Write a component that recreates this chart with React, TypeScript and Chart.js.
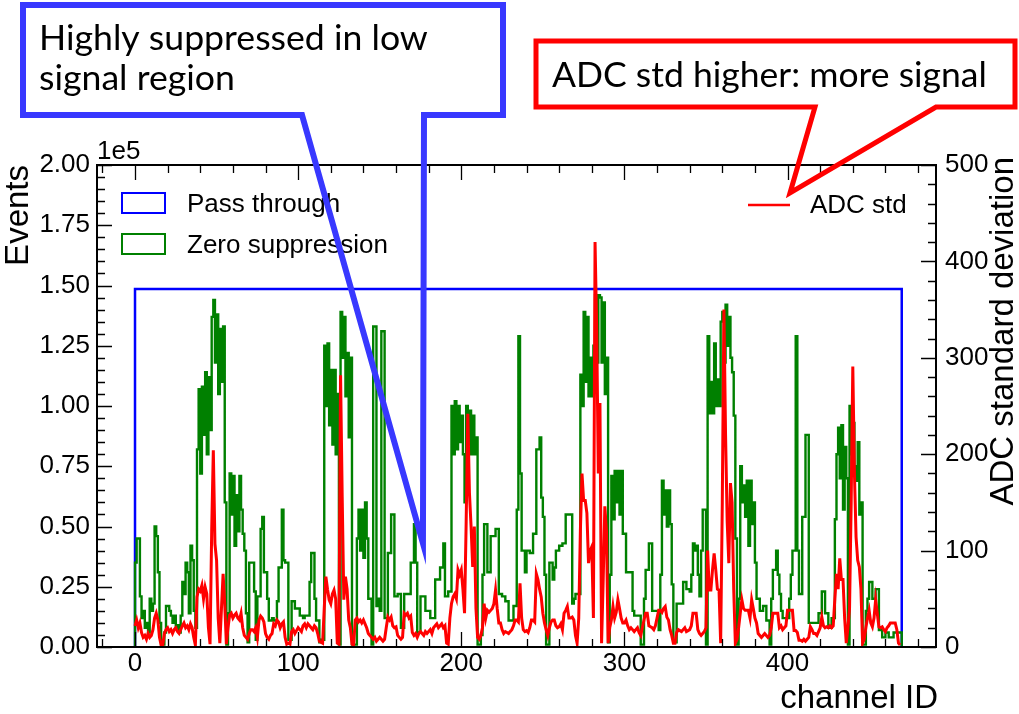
import React, { useEffect, useRef } from "react";
import { Chart, registerables } from "chart.js";

Chart.register(...registerables);

// ---------------- data ----------------
const channelCount = 470;
const passThroughEdges = [0, 470];
const passThroughCounts = [148500];

// Zero-suppression events per channel, in thousands of events
const zeroSuppressionK = [
  35, 45, 45, 21, 12, 15, 8, 10, 6, 20,
  15, 18, 50, 46, 31, 10, 1, 1, 6, 17,
  17, 15, 13, 10, 13, 8, 9, 6, 13, 27,
  22, 35, 31, 14, 42, 36, 15, 8, 82, 107,
  72, 108, 88, 114, 80, 112, 90, 137, 144, 118,
  138, 105, 132, 110, 133, 60, 1, 14, 72, 55,
  71, 42, 63, 48, 71, 57, 47, 40, 14, 2,
  35, 35, 35, 23, 3, 21, 21, 49, 54, 31,
  31, 20, 11, 11, 12, 11, 11, 19, 33, 33,
  57, 36, 35, 35, 3, 3, 19, 19, 16, 16,
  16, 13, 13, 12, 13, 13, 13, 27, 39, 39,
  20, 11, 11, 2, 3, 3, 125, 100, 126, 92,
  115, 84, 115, 80, 105, 1, 139, 120, 137, 104,
  122, 87, 120, 1, 1, 1, 45, 57, 40, 57,
  37, 60, 45, 20, 20, 1, 133, 133, 17, 20,
  15, 131, 131, 12, 12, 39, 39, 55, 55, 21,
  21, 22, 22, 8, 8, 22, 22, 22, 22, 35,
  35, 51, 35, 6, 6, 21, 21, 21, 15, 15,
  15, 12, 12, 12, 28, 28, 28, 33, 33, 43,
  21, 21, 23, 23, 100, 80, 102, 82, 100, 85,
  96, 80, 60, 100, 84, 98, 80, 96, 80, 87,
  1, 1, 5, 30, 51, 51, 31, 31, 46, 46,
  46, 49, 49, 22, 22, 21, 21, 19, 19, 11,
  11, 11, 17, 17, 57, 129, 72, 40, 40, 31,
  40, 40, 39, 39, 47, 47, 82, 82, 87, 62,
  54, 30, 1, 1, 35, 35, 28, 33, 40, 40,
  42, 42, 43, 43, 55, 55, 55, 55, 18, 20,
  22, 22, 22, 113, 100, 139, 110, 137, 104, 120,
  104, 125, 146, 118, 146, 145, 118, 143, 105, 120,
  2, 30, 71, 53, 73, 60, 73, 55, 73, 47,
  47, 31, 31, 31, 31, 15, 13, 13, 13, 13,
  1, 1, 20, 32, 32, 43, 43, 15, 15, 15,
  15, 7, 30, 69, 55, 65, 50, 65, 51, 26,
  2, 2, 18, 18, 18, 18, 27, 27, 24, 24,
  23, 30, 43, 40, 42, 30, 21, 40, 57, 57,
  1, 129, 97, 110, 97, 126, 100, 111, 100, 135,
  139, 118, 142, 125, 137, 120, 114, 96, 45, 1,
  20, 75, 60, 67, 54, 69, 42, 69, 51, 60,
  35, 20, 20, 15, 15, 17, 17, 11, 11, 1,
  20, 32, 32, 40, 30, 22, 15, 12, 12, 12,
  12, 20, 30, 40, 40, 129, 40, 22, 22, 54,
  54, 88, 88, 10, 10, 10, 10, 10, 10, 14,
  14, 23, 23, 14, 14, 8, 8, 12, 12, 53,
  80, 91, 70, 92, 57, 83, 70, 1, 100, 80,
  93, 75, 69, 85, 55, 60, 1, 1, 15, 20,
  27, 27, 20, 20, 24, 24, 7, 7, 4, 4,
  6, 6, 4, 4, 4, 6, 6, 6, 6, 6,
];

// ADC standard deviation per channel
const adcStd = [
  22, 28, 20, 25, 15, 10, 12, 8, 14, 10,
  12, 18, 30, 35, 28, 10, 2, 2, 14, 18,
  20, 16, 18, 14, 18, 20, 16, 14, 18, 22,
  25, 20, 22, 18, 24, 20, 10, 2, 52, 60,
  58, 64, 50, 62, 55, 20, 3, 120, 204, 107,
  90, 30, 4, 40, 76, 45, 3, 20, 33, 35,
  30, 33, 35, 30, 28, 35, 20, 12, 10, 8,
  14, 18, 18, 16, 20, 10, 28, 32, 30, 26,
  14, 10, 8, 12, 14, 24, 22, 28, 26, 20,
  24, 26, 10, 3, 4, 3, 16, 18, 14, 17,
  20, 18, 16, 22, 24, 20, 24, 22, 20, 18,
  22, 20, 14, 6, 5, 4, 40, 73, 60, 49,
  45, 55, 59, 50, 4, 3, 282, 156, 49, 73,
  60, 28, 20, 3, 2, 28, 30, 26, 28, 25,
  28, 24, 20, 14, 12, 10, 8, 10, 6, 8,
  10, 8, 6, 8, 20, 31, 28, 31, 22, 20,
  21, 12, 10, 8, 10, 35, 33, 35, 30, 32,
  15, 12, 14, 10, 14, 16, 14, 12, 16, 14,
  16, 18, 14, 20, 22, 24, 20, 22, 24, 20,
  22, 4, 3, 30, 45, 52, 55, 50, 80, 75,
  80, 60, 35, 130, 242, 160, 125, 83, 125, 40,
  10, 8, 12, 20, 45, 30, 38, 36, 38, 40,
  45, 59, 40, 25, 25, 18, 14, 16, 15, 14,
  16, 18, 22, 28, 28, 26, 66, 30, 18, 16,
  17, 15, 20, 28, 28, 26, 76, 70, 60, 52,
  35, 25, 18, 12, 20, 26, 28, 28, 22, 20,
  21, 24, 18, 35, 38, 42, 30, 30, 31, 28,
  12, 4, 30, 120, 180, 152, 152, 139, 87, 100,
  104, 30, 420, 330, 180, 253, 4, 70, 146, 120,
  4, 20, 28, 42, 30, 36, 49, 40, 30, 25,
  25, 28, 22, 18, 20, 18, 16, 18, 20, 15,
  12, 20, 28, 35, 35, 22, 21, 20, 18, 22,
  30, 38, 38, 36, 40, 42, 31, 28, 18, 12,
  4, 4, 15, 18, 17, 16, 18, 20, 16, 17,
  18, 22, 35, 35, 35, 18, 14, 12, 14, 16,
  20, 100, 59, 59, 80, 97, 80, 60, 59, 4,
  150, 350, 220, 130, 87, 170, 150, 60, 4, 8,
  20, 35, 49, 40, 38, 38, 38, 30, 49, 40,
  30, 25, 14, 12, 10, 12, 14, 12, 10, 12,
  20, 35, 35, 35, 35, 20, 22, 18, 20, 22,
  38, 38, 38, 38, 17, 17, 15, 7, 7, 6,
  8, 6, 8, 10, 21, 18, 14, 14, 12, 16,
  20, 31, 22, 20, 21, 20, 22, 20, 22, 50,
  76, 60, 92, 70, 70, 30, 4, 20, 40, 150,
  291, 180, 114, 90, 83, 60, 4, 8, 20, 30,
  38, 25, 21, 30, 49, 35, 21, 20, 21, 18,
  16, 20, 22, 25, 25, 25, 25, 18, 4, 2,
];

const xTickValues = [0, 100, 200, 300, 400];
const yTickValues = [0, 25000, 50000, 75000, 100000, 125000, 150000, 175000, 200000];
const y2TickValues = [0, 100, 200, 300, 400, 500];

const legendLabels = ["Pass through", "Zero suppression"];
const rightLegendLabel = "ADC std";
const xTitle = "channel ID";
const yTitle = "Events";
const y2Title = "ADC standard deviation";
const blueCalloutLines = ["Highly suppressed in low", "signal region"];
const redCalloutLines = ["ADC std higher: more signal"];

// ---------------- styling ----------------
const W = 1019;
const H = 714;
const AX_FONT = '"Liberation Sans", Arial, Helvetica, sans-serif';
const CALLOUT_FONT = 'Lato, "Open Sans", sans-serif';
const BLUE = "#0000ff";
const GREEN = "#008000";
const RED = "#ff0000";
const CALLOUT_BLUE = "#3838ff";

function fitFont(ctx: CanvasRenderingContext2D, text: string, width: number, family: string) {
  ctx.font = `100px ${family}`;
  const w = ctx.measureText(text).width;
  return (100 * width) / w;
}

const overlayPlugin = {
  id: "overlay",
  afterDraw(chart: any) {
    const ctx: CanvasRenderingContext2D = chart.ctx;
    const { left, right, top, bottom } = chart.chartArea;
    const xs = chart.scales.x;
    const ys = chart.scales.y;
    const y2 = chart.scales.y2;
    ctx.save();

    // ticks (inward, ROOT style)
    ctx.strokeStyle = "#000";
    ctx.lineWidth = 1.3;
    ctx.beginPath();
    for (let v = -20; v <= 490; v += 20) {
      const px = Math.round(xs.getPixelForValue(v)) + 0.5;
      if (px < left + 1 || px > right - 1) continue;
      const len = v % 100 === 0 ? 15 : 8;
      ctx.moveTo(px, bottom);
      ctx.lineTo(px, bottom - len);
      ctx.moveTo(px, top);
      ctx.lineTo(px, top + len);
    }
    for (let v = 0; v <= 200000; v += 5000) {
      const py = Math.round(ys.getPixelForValue(v)) + 0.5;
      const len = v % 25000 === 0 ? 15 : 8;
      ctx.moveTo(left, py);
      ctx.lineTo(left + len, py);
    }
    for (let v = 0; v <= 500; v += 20) {
      const py = Math.round(y2.getPixelForValue(v)) + 0.5;
      const len = v % 100 === 0 ? 15 : 8;
      ctx.moveTo(right, py);
      ctx.lineTo(right - len, py);
    }
    ctx.stroke();

    // frame
    ctx.lineWidth = 2;
    ctx.strokeRect(left, top, right - left, bottom - top);

    // offset text
    ctx.fillStyle = "#000";
    ctx.font = `26px ${AX_FONT}`;
    ctx.textAlign = "left";
    ctx.textBaseline = "alphabetic";
    ctx.fillText("1e5", left, top - 6);

    // axis titles
    ctx.font = `33px ${AX_FONT}`;
    ctx.textAlign = "right";
    ctx.fillText(xTitle, right + 2, 708);

    ctx.save();
    ctx.translate(28, top);
    ctx.rotate(-Math.PI / 2);
    ctx.textAlign = "right";
    ctx.fillText(yTitle, 0, 0);
    ctx.restore();

    ctx.save();
    ctx.translate(1013, top - 8);
    ctx.rotate(-Math.PI / 2);
    ctx.textAlign = "right";
    ctx.fillText(y2Title, 0, 0);
    ctx.restore();

    // legend
    ctx.lineWidth = 2;
    ctx.strokeStyle = BLUE;
    ctx.strokeRect(122, 193, 43, 20);
    ctx.strokeStyle = GREEN;
    ctx.strokeRect(122, 234, 43, 20);
    ctx.font = `26px ${AX_FONT}`;
    ctx.textAlign = "left";
    ctx.fillStyle = "#000";
    ctx.fillText(legendLabels[0], 187, 212);
    ctx.fillText(legendLabels[1], 187, 253);
    ctx.strokeStyle = RED;
    ctx.lineWidth = 2.5;
    ctx.beginPath();
    ctx.moveTo(748, 205);
    ctx.lineTo(790, 205);
    ctx.stroke();
    ctx.fillText(rightLegendLabel, 810, 213);

    // callouts
    const drawCallout = (
      color: string,
      lw: number,
      bx0: number, by0: number, bx1: number, by1: number,
      g0: number, g1: number,
      tipX: number, tipY: number
    ) => {
      ctx.strokeStyle = color;
      ctx.lineWidth = lw;
      ctx.lineJoin = "miter";
      ctx.beginPath();
      ctx.moveTo(g0, by1);
      ctx.lineTo(bx0, by1);
      ctx.lineTo(bx0, by0);
      ctx.lineTo(bx1, by0);
      ctx.lineTo(bx1, by1);
      ctx.lineTo(g1, by1);
      ctx.lineTo(tipX, tipY);
      ctx.closePath();
      ctx.stroke();
    };

    const blueTipX = xs.getPixelForValue(176.5);
    const blueTipY = ys.getPixelForValue(43000);
    drawCallout(CALLOUT_BLUE, 6, 23, 5, 503, 115, 302, 424, blueTipX, blueTipY);

    const redTipX = xs.getPixelForValue(401.5);
    const redTipY = y2.getPixelForValue(471);
    drawCallout(RED, 5, 536, 41, 1015, 107, 815, 936, redTipX, redTipY);

    ctx.fillStyle = "#000";
    ctx.textAlign = "left";
    const blueSize = fitFont(ctx, blueCalloutLines[0], 389, CALLOUT_FONT);
    ctx.font = `${blueSize}px ${CALLOUT_FONT}`;
    ctx.fillText(blueCalloutLines[0], 39, 50);
    ctx.fillText(blueCalloutLines[1], 39, 90);
    const redSize = fitFont(ctx, redCalloutLines[0], 435, CALLOUT_FONT);
    ctx.font = `${redSize}px ${CALLOUT_FONT}`;
    ctx.fillText(redCalloutLines[0], 552, 87);

    ctx.restore();
  },
};

export default function App() {
  const canvasRef = useRef<HTMLCanvasElement | null>(null);

  useEffect(() => {
    const canvas = canvasRef.current;
    if (!canvas) return;

    const passPts: { x: number; y: number }[] = [
      { x: passThroughEdges[0], y: 0 },
      { x: passThroughEdges[0], y: passThroughCounts[0] },
      { x: passThroughEdges[1], y: passThroughCounts[0] },
      { x: passThroughEdges[1], y: 0 },
    ];

    const greenPts: { x: number; y: number }[] = [{ x: 0, y: 0 }];
    zeroSuppressionK.forEach((v, i) => greenPts.push({ x: i, y: v * 1000 }));
    greenPts.push({ x: channelCount, y: zeroSuppressionK[channelCount - 1] * 1000 });
    greenPts.push({ x: channelCount, y: 0 });

    const redPts = adcStd.map((v, i) => ({ x: i, y: v }));

    const tickFont = { family: AX_FONT, size: 26 };

    const chart = new Chart(canvas, {
      type: "line",
      data: {
        datasets: [
          {
            label: rightLegendLabel,
            data: redPts,
            yAxisID: "y2",
            borderColor: RED,
            borderWidth: 3,
            pointRadius: 0,
            tension: 0,
            order: 1,
          },
          {
            label: legendLabels[1],
            data: greenPts,
            yAxisID: "y",
            borderColor: GREEN,
            borderWidth: 2.4,
            pointRadius: 0,
            stepped: "before",
            order: 2,
          },
          {
            label: legendLabels[0],
            data: passPts,
            yAxisID: "y",
            borderColor: BLUE,
            borderWidth: 2.5,
            pointRadius: 0,
            order: 3,
          },
        ],
      },
      options: {
        animation: false,
        responsive: false,
        devicePixelRatio: 1,
        layout: { padding: { top: 165, left: 0, right: 0, bottom: 0 } },
        plugins: { legend: { display: false }, tooltip: { enabled: false } },
        elements: { point: { radius: 0 }, line: { tension: 0 } },
        scales: {
          x: {
            type: "linear",
            position: "bottom",
            min: -23.3,
            max: 491,
            grid: { display: false, drawTicks: false },
            border: { display: false },
            afterBuildTicks: (s: any) => {
              s.ticks = xTickValues.map((v) => ({ value: v }));
            },
            afterFit: (s: any) => {
              s.height = H - 647;
            },
            ticks: {
              font: tickFont,
              color: "#000",
              padding: 1,
              maxRotation: 0,
              autoSkip: false,
              callback: (v: any) => String(v),
            },
          },
          y: {
            type: "linear",
            position: "left",
            min: 0,
            max: 200000,
            grid: { display: false, drawTicks: false },
            border: { display: false },
            afterBuildTicks: (s: any) => {
              s.ticks = yTickValues.map((v) => ({ value: v }));
            },
            afterFit: (s: any) => {
              s.width = 97;
            },
            ticks: {
              font: tickFont,
              color: "#000",
              padding: 7,
              autoSkip: false,
              callback: (v: any) => (Number(v) / 1e5).toFixed(2),
            },
          },
          y2: {
            type: "linear",
            position: "right",
            min: 0,
            max: 500,
            grid: { display: false, drawTicks: false },
            border: { display: false },
            afterBuildTicks: (s: any) => {
              s.ticks = y2TickValues.map((v) => ({ value: v }));
            },
            afterFit: (s: any) => {
              s.width = W - 936;
            },
            ticks: {
              font: tickFont,
              color: "#000",
              padding: 9,
              autoSkip: false,
              callback: (v: any) => String(v),
            },
          },
        },
      },
      plugins: [overlayPlugin],
    } as any);

    return () => {
      chart.destroy();
    };
  }, []);

  return (
    <div style={{ position: "absolute", left: 0, top: 0, width: W, height: H, background: "#fff" }}>
      <canvas ref={canvasRef} width={W} height={H} style={{ width: W, height: H, display: "block" }} />
    </div>
  );
}
